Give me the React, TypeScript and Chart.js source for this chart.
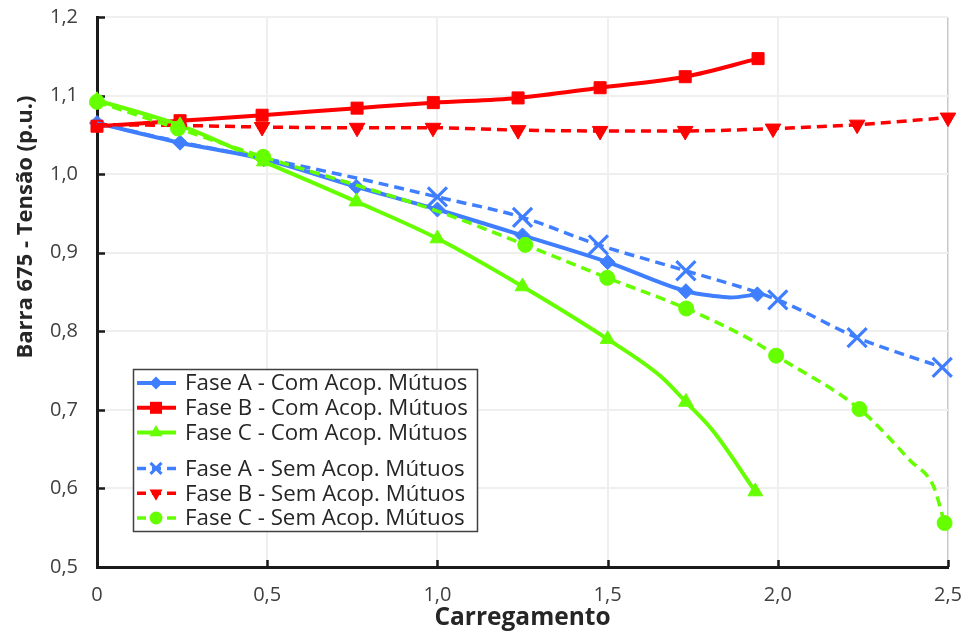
import React, { useEffect, useRef } from 'react';
import { Chart, registerables } from 'chart.js';

Chart.register(...registerables);

// Carregamento (x) versus voltage at bus 675 in p.u. (y), one set per phase.
// The *Mark arrays say which samples carry a marker (1) and which only shape the curve (0).
const faseAComX = [0, 0.244, 0.49, 0.762, 1.0, 1.25, 1.5, 1.73, 1.81, 1.86, 1.94];
const faseAComY = [1.065, 1.040, 1.019, 0.984, 0.955, 0.922, 0.888, 0.851, 0.845, 0.843, 0.847];
const faseAComMark = [1, 1, 1, 1, 1, 1, 1, 1, 0, 0, 1];

const faseBComX = [0, 0.244, 0.485, 0.764, 0.988, 1.237, 1.478, 1.728, 1.942];
const faseBComY = [1.061, 1.068, 1.075, 1.084, 1.091, 1.097, 1.110, 1.124, 1.147];
const faseBComMark = [1, 1, 1, 1, 1, 1, 1, 1, 1];

const faseCComX = [0, 0.244, 0.49, 0.762, 1.0, 1.25, 1.5, 1.655, 1.73, 1.81, 1.934];
const faseCComY = [1.094, 1.062, 1.016, 0.965, 0.918, 0.857, 0.790, 0.743, 0.710, 0.673, 0.596];
const faseCComMark = [1, 1, 1, 1, 1, 1, 1, 0, 1, 0, 1];

const faseASemX = [0, 0.244, 0.49, 0.762, 1.0, 1.25, 1.473, 1.73, 2.0, 2.233, 2.483];
const faseASemY = [1.065, 1.041, 1.020, 0.995, 0.971, 0.945, 0.910, 0.877, 0.840, 0.792, 0.754];
const faseASemMark = [0, 0, 0, 0, 1, 1, 1, 1, 1, 1, 1];

const faseBSemX = [0, 0.244, 0.485, 0.764, 0.987, 1.237, 1.478, 1.728, 1.986, 2.233, 2.5];
const faseBSemY = [1.063, 1.062, 1.060, 1.059, 1.059, 1.056, 1.055, 1.055, 1.058, 1.063, 1.072];
const faseBSemMark = [0, 0, 1, 1, 1, 1, 1, 1, 1, 1, 1];

const faseCSemX = [0, 0.238, 0.488, 0.762, 1.0, 1.258, 1.499, 1.731, 1.93, 1.995, 2.24, 2.39, 2.457, 2.49];
const faseCSemY = [1.092, 1.058, 1.022, 0.986, 0.953, 0.910, 0.868, 0.829, 0.787, 0.769, 0.701, 0.635, 0.603, 0.556];
const faseCSemMark = [1, 1, 1, 0, 0, 1, 1, 1, 0, 1, 1, 0, 0, 1];

const xTicks = ['0', '0,5', '1,0', '1,5', '2,0', '2,5'];
const yTicks = ['0,5', '0,6', '0,7', '0,8', '0,9', '1,0', '1,1', '1,2'];

const xTitle = 'Carregamento';
const yTitle = 'Barra 675 - Tensão (p.u.)';

const BLUE = '#3F7FFF';
const RED = '#FF0000';
const GREEN = '#66FF00';
const FONT = '"Open Sans", Lato, sans-serif';

type Marker = 'diamond' | 'square' | 'triUp' | 'cross' | 'triDown' | 'circle';

interface Series {
  label: string;
  xs: number[];
  ys: number[];
  marks: number[];
  color: string;
  dashed: boolean;
  marker: Marker;
}

const series: Series[] = [
  { label: 'Fase A - Com Acop. Mútuos', xs: faseAComX, ys: faseAComY, marks: faseAComMark, color: BLUE, dashed: false, marker: 'diamond' },
  { label: 'Fase B - Com Acop. Mútuos', xs: faseBComX, ys: faseBComY, marks: faseBComMark, color: RED, dashed: false, marker: 'square' },
  { label: 'Fase C - Com Acop. Mútuos', xs: faseCComX, ys: faseCComY, marks: faseCComMark, color: GREEN, dashed: false, marker: 'triUp' },
  { label: 'Fase A - Sem Acop. Mútuos', xs: faseASemX, ys: faseASemY, marks: faseASemMark, color: BLUE, dashed: true, marker: 'cross' },
  { label: 'Fase B - Sem Acop. Mútuos', xs: faseBSemX, ys: faseBSemY, marks: faseBSemMark, color: RED, dashed: true, marker: 'triDown' },
  { label: 'Fase C - Sem Acop. Mútuos', xs: faseCSemX, ys: faseCSemY, marks: faseCSemMark, color: GREEN, dashed: true, marker: 'circle' },
];

// Chart.js point style and size for each marker kind
const pointStyles: Record<Marker, { style: string; rotation: number; radius: number; border: number }> = {
  diamond: { style: 'rectRot', rotation: 0, radius: 7.5, border: 1 },
  square: { style: 'rect', rotation: 0, radius: 8.5, border: 1 },
  triUp: { style: 'triangle', rotation: 0, radius: 8.5, border: 1 },
  cross: { style: 'crossRot', rotation: 0, radius: 13.5, border: 3.2 },
  triDown: { style: 'triangle', rotation: 180, radius: 9, border: 1 },
  circle: { style: 'circle', rotation: 0, radius: 7.5, border: 1 },
};

function drawLegendMarker(ctx: CanvasRenderingContext2D, m: Marker, x: number, y: number, color: string) {
  ctx.save();
  ctx.fillStyle = color;
  ctx.strokeStyle = color;
  ctx.setLineDash([]);
  ctx.beginPath();
  if (m === 'diamond') {
    const r = 6.5;
    ctx.moveTo(x - r, y);
    ctx.lineTo(x, y - r);
    ctx.lineTo(x + r, y);
    ctx.lineTo(x, y + r);
    ctx.closePath();
    ctx.fill();
  } else if (m === 'square') {
    const r = 6;
    ctx.rect(x - r, y - r, 2 * r, 2 * r);
    ctx.fill();
  } else if (m === 'triUp' || m === 'triDown') {
    const r = 7.5;
    const s = m === 'triUp' ? 1 : -1;
    ctx.moveTo(x, y - s * r);
    ctx.lineTo(x + r * 0.866, y + s * r * 0.5);
    ctx.lineTo(x - r * 0.866, y + s * r * 0.5);
    ctx.closePath();
    ctx.fill();
  } else if (m === 'cross') {
    const r = 5.5;
    ctx.lineWidth = 3;
    ctx.moveTo(x - r, y - r);
    ctx.lineTo(x + r, y + r);
    ctx.moveTo(x + r, y - r);
    ctx.lineTo(x - r, y + r);
    ctx.stroke();
  } else {
    ctx.arc(x, y, 6.5, 0, Math.PI * 2);
    ctx.fill();
  }
  ctx.restore();
}

const decorPlugin = {
  id: 'decor',
  beforeDatasetsDraw(chart: any) {
    const { ctx, chartArea: a, scales } = chart;
    ctx.save();
    ctx.strokeStyle = '#1a1a1a';
    ctx.lineWidth = 2.5;
    ctx.beginPath();
    // inward major tick marks
    scales.y.ticks.forEach((t: any) => {
      const py = Math.round(scales.y.getPixelForValue(t.value)) + 0.5;
      ctx.moveTo(a.left, py);
      ctx.lineTo(a.left + 8, py);
    });
    scales.x.ticks.forEach((t: any) => {
      const px = Math.round(scales.x.getPixelForValue(t.value)) + 0.5;
      ctx.moveTo(px, a.bottom);
      ctx.lineTo(px, a.bottom - 7);
    });
    ctx.stroke();
    ctx.restore();
  },
  afterDraw(chart: any) {
    const { ctx, chartArea: a } = chart;
    ctx.save();
    // axis titles
    ctx.fillStyle = '#262626';
    ctx.textAlign = 'center';
    ctx.textBaseline = 'middle';
    ctx.font = `bold 24.5px ${FONT}`;
    ctx.fillText(xTitle, (a.left + a.right) / 2, 618);
    ctx.save();
    ctx.translate(26, 227);
    ctx.rotate(-Math.PI / 2);
    ctx.font = `bold 22px ${FONT}`;
    ctx.fillText(yTitle, 0, 0);
    ctx.restore();

    // legend box with the two groups of entries
    const bx = 133.5, by = 369.5, bw = 344, bh = 162;
    ctx.fillStyle = '#ffffff';
    ctx.fillRect(bx, by, bw, bh);
    ctx.strokeStyle = '#404040';
    ctx.lineWidth = 1.5;
    ctx.strokeRect(bx, by, bw, bh);
    ctx.font = `22.3px ${FONT}`;
    ctx.textAlign = 'left';
    series.forEach((s, i) => {
      const y = 383 + i * 24.8 + (i >= 3 ? 11 : 0);
      ctx.save();
      ctx.strokeStyle = s.color;
      ctx.lineWidth = s.dashed ? 3.5 : 4;
      ctx.setLineDash(s.dashed ? [9, 6] : []);
      ctx.beginPath();
      ctx.moveTo(137, y);
      ctx.lineTo(176, y);
      ctx.stroke();
      ctx.restore();
      drawLegendMarker(ctx, s.marker, 156, y, s.color);
      ctx.fillStyle = '#262626';
      ctx.fillText(s.label, 185, y + 1);
    });
    ctx.restore();
  },
};

export default function App() {
  const canvasRef = useRef<HTMLCanvasElement | null>(null);

  useEffect(() => {
    document.body.style.margin = '0';
    const canvas = canvasRef.current;
    if (!canvas) return;

    const datasets = series.map((s, i) => {
      const p = pointStyles[s.marker];
      return {
        label: s.label,
        data: s.xs.map((x, k) => ({ x, y: s.ys[k] })),
        borderColor: s.color,
        backgroundColor: s.color,
        borderWidth: s.dashed ? 3.5 : 4,
        borderDash: s.dashed ? [10, 6] : [],
        pointStyle: p.style,
        pointRotation: p.rotation,
        pointRadius: s.marks.map((m) => (m ? p.radius : 0)),
        pointHoverRadius: s.marks.map((m) => (m ? p.radius : 0)),
        pointBackgroundColor: s.color,
        pointBorderColor: s.color,
        pointBorderWidth: p.border,
        cubicInterpolationMode: 'monotone',
        clip: false,
        order: series.length - i,
      };
    });

    const tickFont = { family: FONT, size: 20 };

    const chart = new Chart(canvas, {
      type: 'line',
      data: { datasets } as any,
      options: {
        responsive: false,
        animation: false,
        layout: { padding: { top: 17, right: 24, left: 0, bottom: 0 } },
        plugins: { legend: { display: false }, tooltip: { enabled: false } },
        scales: {
          x: {
            type: 'linear',
            min: 0,
            max: 2.5,
            ticks: {
              stepSize: 0.5,
              font: tickFont,
              color: '#404040',
              padding: 0,
              maxRotation: 0,
              autoSkip: false,
              callback: (_v: any, i: number) => xTicks[i],
            },
            grid: {
              drawTicks: true,
              tickLength: 16,
              tickColor: 'rgba(0,0,0,0)',
              color: (c: any) => (c.tick && c.tick.value === 2.5 ? '#c8c8c8' : '#efefef'),
              lineWidth: (c: any) => (c.tick && c.tick.value === 2.5 ? 1.5 : 2),
            },
            border: { color: '#1a1a1a', width: 3 },
            afterFit: (s: any) => {
              s.height = 67;
            },
          },
          y: {
            type: 'linear',
            min: 0.5,
            max: 1.2,
            ticks: {
              stepSize: 0.1,
              font: tickFont,
              color: '#404040',
              padding: 0,
              autoSkip: false,
              callback: (_v: any, i: number) => yTicks[i],
            },
            grid: {
              drawTicks: true,
              tickLength: 19,
              tickColor: 'rgba(0,0,0,0)',
              color: '#efefef',
              lineWidth: 2,
            },
            border: { color: '#1a1a1a', width: 3 },
            afterFit: (s: any) => {
              s.width = 97;
            },
          },
        },
      } as any,
      plugins: [decorPlugin],
    });

    return () => chart.destroy();
  }, []);

  return (
    <div style={{ width: 972, height: 634, background: '#ffffff' }}>
      <canvas ref={canvasRef} width={972} height={634} />
    </div>
  );
}
